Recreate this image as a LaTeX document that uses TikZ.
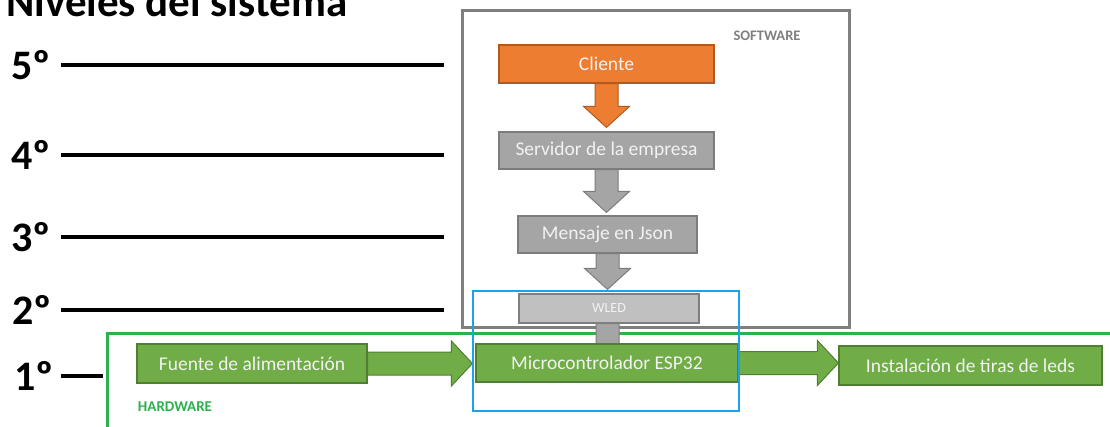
\documentclass[tikz,border=0pt]{standalone}
\usepackage{fontspec}
\setmainfont{Carlito}
\usepackage{tikz}
\usetikzlibrary{calc}

\definecolor{cliorange}{HTML}{ED7D31}
\definecolor{cliorangedark}{HTML}{AE5A21}
\definecolor{srvgray}{HTML}{A5A5A5}
\definecolor{srvgraydark}{HTML}{7C7C7C}
\definecolor{wledgray}{HTML}{C0C0C0}
\definecolor{hwgreen}{HTML}{70AD47}
\definecolor{hwgreendark}{HTML}{507E32}
\definecolor{framegreen}{HTML}{2BB24C}
\definecolor{frameblue}{HTML}{1AA3E8}
\definecolor{framegray}{HTML}{7F7F7F}

\pgfdeclarelayer{bg}
\pgfsetlayers{bg,main}

\tikzset{
  stage/.style={rectangle, line width=1.2pt, text=white!95!black, inner sep=0pt,
    font=\fontsize{19.5}{23}\selectfont},
  orangestage/.style={stage, fill=cliorange, draw=cliorangedark},
  graystage/.style={stage, fill=srvgray, draw=srvgraydark},
  greenstage/.style={stage, fill=hwgreen, draw=hwgreendark},
  level/.style={inner sep=0pt, font=\bfseries\fontsize{42}{48}\selectfont},
  levelline/.style={line width=4pt},
  % thick block arrows
  fatdown/.style={to path={let \p1=(\tikztostart), \p2=(\tikztotarget) in
    (\x1-11.5pt,\y1) -- (\x1-11.5pt,\y2+21pt) -- (\x1-23pt,\y2+21pt) -- (\x1,\y2)
    -- (\x1+23pt,\y2+21pt) -- (\x1+11.5pt,\y2+21pt) -- (\x1+11.5pt,\y1) -- cycle}},
  fatright/.style={to path={let \p1=(\tikztostart), \p2=(\tikztotarget) in
    (\x1,\y1+11.5pt) -- (\x2-21pt,\y1+11.5pt) -- (\x2-21pt,\y1+22.5pt) -- (\x2,\y1)
    -- (\x2-21pt,\y1-22.5pt) -- (\x2-21pt,\y1-11.5pt) -- (\x1,\y1-11.5pt) -- cycle}},
}

\begin{document}
\begin{tikzpicture}[x=1pt, y=-1pt]
  \useasboundingbox (0,0) rectangle (1110,426);

  \node[anchor=base west, inner sep=0pt, font=\bfseries\fontsize{43}{50}\selectfont] (title) at (6,16) {Niveles del sistema};

  % levels
  \node[level, anchor=east] (n5) at (51,65) {5º};
  \node[level, anchor=east] (n4) at (51,155) {4º};
  \node[level, anchor=east] (n3) at (51,237) {3º};
  \node[level, anchor=east] (n2) at (52,310) {2º};
  \node[level, anchor=east] (n1) at (54,376) {1º};
  \coordinate (e5) at (444,65);
  \coordinate (e4) at (444,155);
  \coordinate (e3) at (444,237);
  \coordinate (e2) at (444,310);
  \coordinate (e1) at (103,376);
  \draw[levelline] ([xshift=10pt]n5.east) -- (e5);
  \draw[levelline] ([xshift=10pt]n4.east) -- (e4);
  \draw[levelline] ([xshift=10pt]n3.east) -- (e3);
  \draw[levelline] ([xshift=9pt]n2.east) -- (e2);
  \draw[levelline] ([xshift=7pt]n1.east) -- (e1);

  % software side
  \node[orangestage, minimum width=215pt, minimum height=38pt] (cli) at (606.5,64) {Cliente};
  \node[graystage, minimum width=215pt, minimum height=37pt] (srv) at (606.5,150.5) {Servidor de la empresa};
  \node[graystage, minimum width=179pt, minimum height=37pt] (msg) at (607.5,234.5) {Mensaje en Json};
  \node[graystage, fill=wledgray, draw=framegray, minimum width=180pt, minimum height=29pt,
    font=\fontsize{14}{16}\selectfont] (wled) at (609,308.5) {WLED};
  \node[font=\bfseries\fontsize{14.5}{16}\selectfont, text=framegray] (swlabel) at (767,36) {SOFTWARE};

  % hardware side
  \node[greenstage, minimum width=230pt, minimum height=39pt] (psu) at (252,363.5) {Fuente de alimentación};
  \node[greenstage, minimum width=262pt, minimum height=38pt] (esp) at (607,363) {Microcontrolador ESP32};
  \node[greenstage, minimum width=263pt, minimum height=39pt] (leds) at (970.5,365.5) {Instalación de tiras de leds};
  \node[font=\bfseries\fontsize{15}{17}\selectfont, text=framegreen] (hwlabel) at (175,407) {HARDWARE};

  \draw[fill=cliorange, draw=cliorangedark, line width=1pt] (cli.south) to[fatdown] ([yshift=4pt]srv.north);
  \draw[fill=srvgray, draw=srvgraydark, line width=1pt] (srv.south) to[fatdown] ([yshift=3pt]msg.north);
  \draw[fill=srvgray, draw=srvgraydark, line width=1pt] (msg.south) to[fatdown] ([yshift=4pt]wled.north);
  \draw[fill=hwgreen, draw=hwgreendark, line width=1pt] (psu.east) to[fatright] ([xshift=-3pt]esp.west);
  \draw[fill=hwgreen, draw=hwgreendark, line width=1pt] (esp.east) to[fatright] (leds.west);

  \begin{pgfonlayer}{bg}
    \draw[framegray, line width=3pt] (462,10) rectangle (849,327);
    \draw[framegreen, line width=3pt] (107,333) rectangle (1130,450);
    \draw[fill=srvgray, draw=srvgraydark, line width=1pt] ([xshift=-1.5pt]wled.south) to[fatdown] ([xshift=-1.5pt,yshift=-22pt]esp.north);
  \end{pgfonlayer}

  \draw[frameblue, line width=2pt] (473,291) rectangle (739,411);
\end{tikzpicture}
\end{document}
